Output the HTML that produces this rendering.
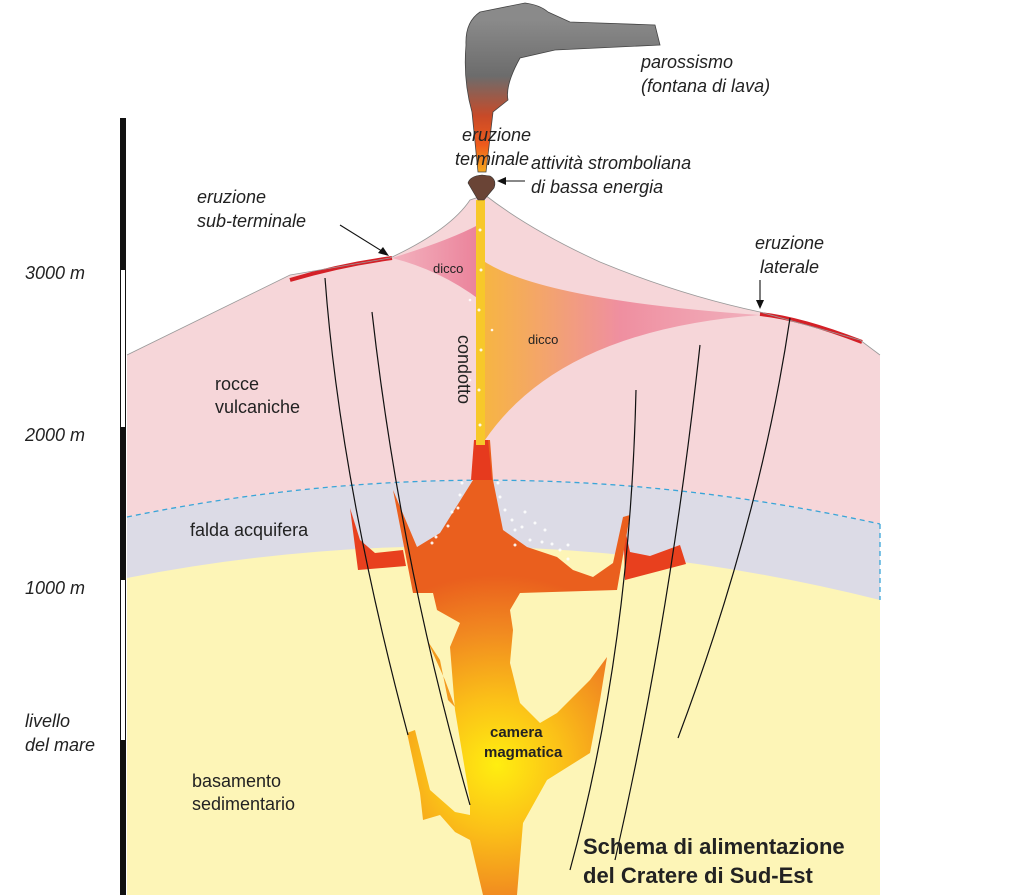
<!DOCTYPE html>
<html><head><meta charset="utf-8"><style>
html,body{margin:0;padding:0;background:#fff}
svg{display:block}
text{font-family:"Liberation Sans",sans-serif;fill:#222}
.it{font-style:italic;font-size:18px}
.n{font-size:18px}
</style></head><body>
<svg width="1024" height="895" viewBox="0 0 1024 895" xmlns="http://www.w3.org/2000/svg">
<defs>
<radialGradient id="mag" cx="497" cy="765" r="190" gradientUnits="userSpaceOnUse">
<stop offset="0" stop-color="#ffee10"/><stop offset="0.35" stop-color="#fbc018"/><stop offset="0.7" stop-color="#f18a20"/><stop offset="1" stop-color="#ea5f1e"/></radialGradient>
<linearGradient id="dk1" x1="480" y1="0" x2="760" y2="0" gradientUnits="userSpaceOnUse">
<stop offset="0" stop-color="#f7b640"/><stop offset="0.5" stop-color="#ef8fa0"/><stop offset="1" stop-color="#f1b0bd"/></linearGradient>
<linearGradient id="dk2" x1="390" y1="0" x2="485" y2="0" gradientUnits="userSpaceOnUse">
<stop offset="0" stop-color="#f3b3bf"/><stop offset="1" stop-color="#ea7f98"/></linearGradient>
<linearGradient id="col" x1="0" y1="20" x2="0" y2="180" gradientUnits="userSpaceOnUse">
<stop offset="0" stop-color="#8a8a8a"/><stop offset="0.35" stop-color="#6c6c6c"/><stop offset="0.6" stop-color="#c84a28"/><stop offset="0.78" stop-color="#ee5a1c"/><stop offset="1" stop-color="#f8c020"/></linearGradient>
</defs>
<!-- scale bar -->
<rect x="120" y="118" width="6" height="777" fill="#111"/>
<rect x="121" y="270" width="4" height="157" fill="#fff"/>
<rect x="121" y="580" width="4" height="160" fill="#fff"/>
<!-- basement -->
<path d="M127 578 Q500 470 880 560 L880 895 L127 895 Z" fill="#fdf5b7"/>
<!-- aquifer -->
<path d="M127 517 Q500 440 880 524 L880 600 Q500 505 127 578 Z" fill="#dcdbe6"/>
<!-- volcanic rock -->
<path d="M127 355 L290 275 L390 258 Q450 230 470 200 L485 195 Q530 230 600 262 Q680 295 760 312 L860 340 L880 355 L880 524 Q500 440 127 517 Z" fill="#f6d6d9"/>
<path d="M127 517 Q500 440 880 524" fill="none" stroke="#3aa5d8" stroke-width="1.3" stroke-dasharray="5,4"/>
<path d="M880 524 L880 600" stroke="#3aa5d8" stroke-width="1.3" stroke-dasharray="5,4"/>
<!-- crust lines -->
<path d="M290 280 Q340 265 392 258" fill="none" stroke="#d42027" stroke-width="4"/>
<path d="M760 314 Q800 318 862 342" fill="none" stroke="#d42027" stroke-width="4"/>
<path d="M127 355 L290 275 L390 258 Q450 230 470 200 L485 195 Q530 230 600 262 Q680 295 760 312 L860 340 L880 355" fill="none" stroke="#999" stroke-width="0.8"/>
<!-- dikes -->
<path d="M392 258 Q450 240 478 225 L480 300 Q440 270 392 258 Z" fill="url(#dk2)"/>
<path d="M482 260 Q540 300 760 315 Q560 330 485 440 Z" fill="url(#dk1)"/>
<!-- red side strips -->
<path d="M350 508 L360 540 L375 553 L403 550 L406 566 L358 570 Z" fill="#e8401e"/>
<path d="M623 520 L630 552 L650 556 L680 545 L686 564 L625 580 Z" fill="#e8401e"/>
<!-- magma -->
<path d="M393 490 L417 547 L440 533 L473 480 L477 440 L490 440 L493 480 L503 530 L527 547 L557 557 L573 570 L593 577 L613 563 L623 517 L630 515 L617 590 L520 593 L510 610 L513 630 L510 663 L520 703 L540 723 L557 713 L590 680 L607 657 L600 700 L590 753 L547 780 L523 823 L517 895 L483 895 L470 840 L455 832 L440 815 L423 820 L420 793 L407 733 L415 730 L430 790 L455 812 L470 815 L470 800 L455 710 L450 647 L460 623 L437 610 L433 593 L413 593 Z" fill="url(#mag)"/>
<path d="M427 640 L440 660 L448 700 L455 707 L445 680 Z" fill="#f39a1e"/>
<path d="M474 440 L488 440 L492 480 L471 480 Z" fill="#e63a1e"/>
<!-- conduit -->
<rect x="476" y="200" width="9" height="245" fill="#f7c82a"/>
<g fill="#fff" opacity="0.9">
<circle cx="480" cy="230" r="1.5"/><circle cx="481" cy="270" r="1.5"/><circle cx="479" cy="310" r="1.5"/><circle cx="481" cy="350" r="1.5"/><circle cx="479" cy="390" r="1.5"/><circle cx="480" cy="425" r="1.5"/>
<circle cx="470" cy="300" r="1.3"/><circle cx="492" cy="330" r="1.3"/><circle cx="470" cy="380" r="1.3"/>
<circle cx="462" cy="483" r="1.5"/><circle cx="460" cy="495" r="1.5"/><circle cx="458" cy="508" r="1.5"/><circle cx="452" cy="512" r="1.5"/><circle cx="448" cy="526" r="1.5"/><circle cx="436" cy="537" r="1.5"/><circle cx="432" cy="543" r="1.5"/>
<circle cx="498" cy="483" r="1.5"/><circle cx="500" cy="497" r="1.5"/><circle cx="505" cy="510" r="1.5"/><circle cx="512" cy="520" r="1.5"/><circle cx="515" cy="530" r="1.5"/><circle cx="522" cy="527" r="1.5"/><circle cx="530" cy="540" r="1.5"/><circle cx="542" cy="542" r="1.5"/><circle cx="552" cy="544" r="1.5"/><circle cx="560" cy="550" r="1.5"/><circle cx="568" cy="545" r="1.5"/><circle cx="525" cy="512" r="1.5"/><circle cx="535" cy="523" r="1.5"/><circle cx="545" cy="530" r="1.5"/><circle cx="568" cy="559" r="1.5"/><circle cx="515" cy="545" r="1.5"/>
</g>
<!-- faults -->
<g stroke="#111" stroke-width="1.2" fill="none">
<path d="M325 278 Q340 480 408 735"/>
<path d="M372 312 Q400 560 470 805"/>
<path d="M636 390 Q630 650 570 870"/>
<path d="M700 345 Q670 620 615 860"/>
<path d="M790 318 Q760 520 678 738"/>
</g>
<!-- plume -->
<path d="M480 12 L525 3 Q540 5 548 12 L570 22 L655 25 L660 45 L555 50 L520 58 Q505 85 508 100 L493 112 L486 172 L478 172 L472 112 Q463 80 466 45 Q465 22 480 12 Z" fill="url(#col)" stroke="#444" stroke-width="0.8"/>
<path d="M468 183 Q470 176 482 175 L490 176 Q497 180 494 188 L484 200 L478 200 Z" fill="#6a4436" stroke="#333" stroke-width="0.6"/>
<!-- arrows -->
<g stroke="#111" stroke-width="1.1">
<line x1="340" y1="225" x2="385" y2="253"/>
<line x1="525" y1="181" x2="502" y2="181"/>
<line x1="760" y1="280" x2="760" y2="305"/>
</g>
<path d="M389 256 L378 253 L383 247 Z" fill="#111"/>
<path d="M497 181 L506 177 L506 185 Z" fill="#111"/>
<path d="M760 309 L756 300 L764 300 Z" fill="#111"/>
<!-- labels -->
<text class="it" x="25" y="279">3000 m</text>
<text class="it" x="25" y="441">2000 m</text>
<text class="it" x="25" y="594">1000 m</text>
<text class="it" x="25" y="727">livello</text>
<text class="it" x="25" y="751">del mare</text>
<text class="it" x="641" y="68">parossismo</text>
<text class="it" x="641" y="92">(fontana di lava)</text>
<text class="it" x="462" y="141">eruzione</text>
<text class="it" x="455" y="165">terminale</text>
<text class="it" x="531" y="169">attività stromboliana</text>
<text class="it" x="531" y="193">di bassa energia</text>
<text class="it" x="197" y="203">eruzione</text>
<text class="it" x="197" y="227">sub-terminale</text>
<text class="it" x="755" y="249">eruzione</text>
<text class="it" x="760" y="273">laterale</text>
<text x="433" y="273" font-size="13">dicco</text>
<text x="528" y="344" font-size="13">dicco</text>
<text class="n" transform="translate(458,335) rotate(90)">condotto</text>
<text class="n" x="215" y="390">rocce</text>
<text class="n" x="215" y="413">vulcaniche</text>
<text class="n" x="190" y="536">falda acquifera</text>
<text x="490" y="737" font-size="15" font-weight="bold">camera</text>
<text x="484" y="757" font-size="15" font-weight="bold">magmatica</text>
<text class="n" x="192" y="787">basamento</text>
<text class="n" x="192" y="810">sedimentario</text>
<text x="583" y="854" font-size="22" font-weight="bold">Schema di alimentazione</text>
<text x="583" y="883" font-size="22" font-weight="bold">del Cratere di Sud-Est</text>
</svg>
</body></html>
